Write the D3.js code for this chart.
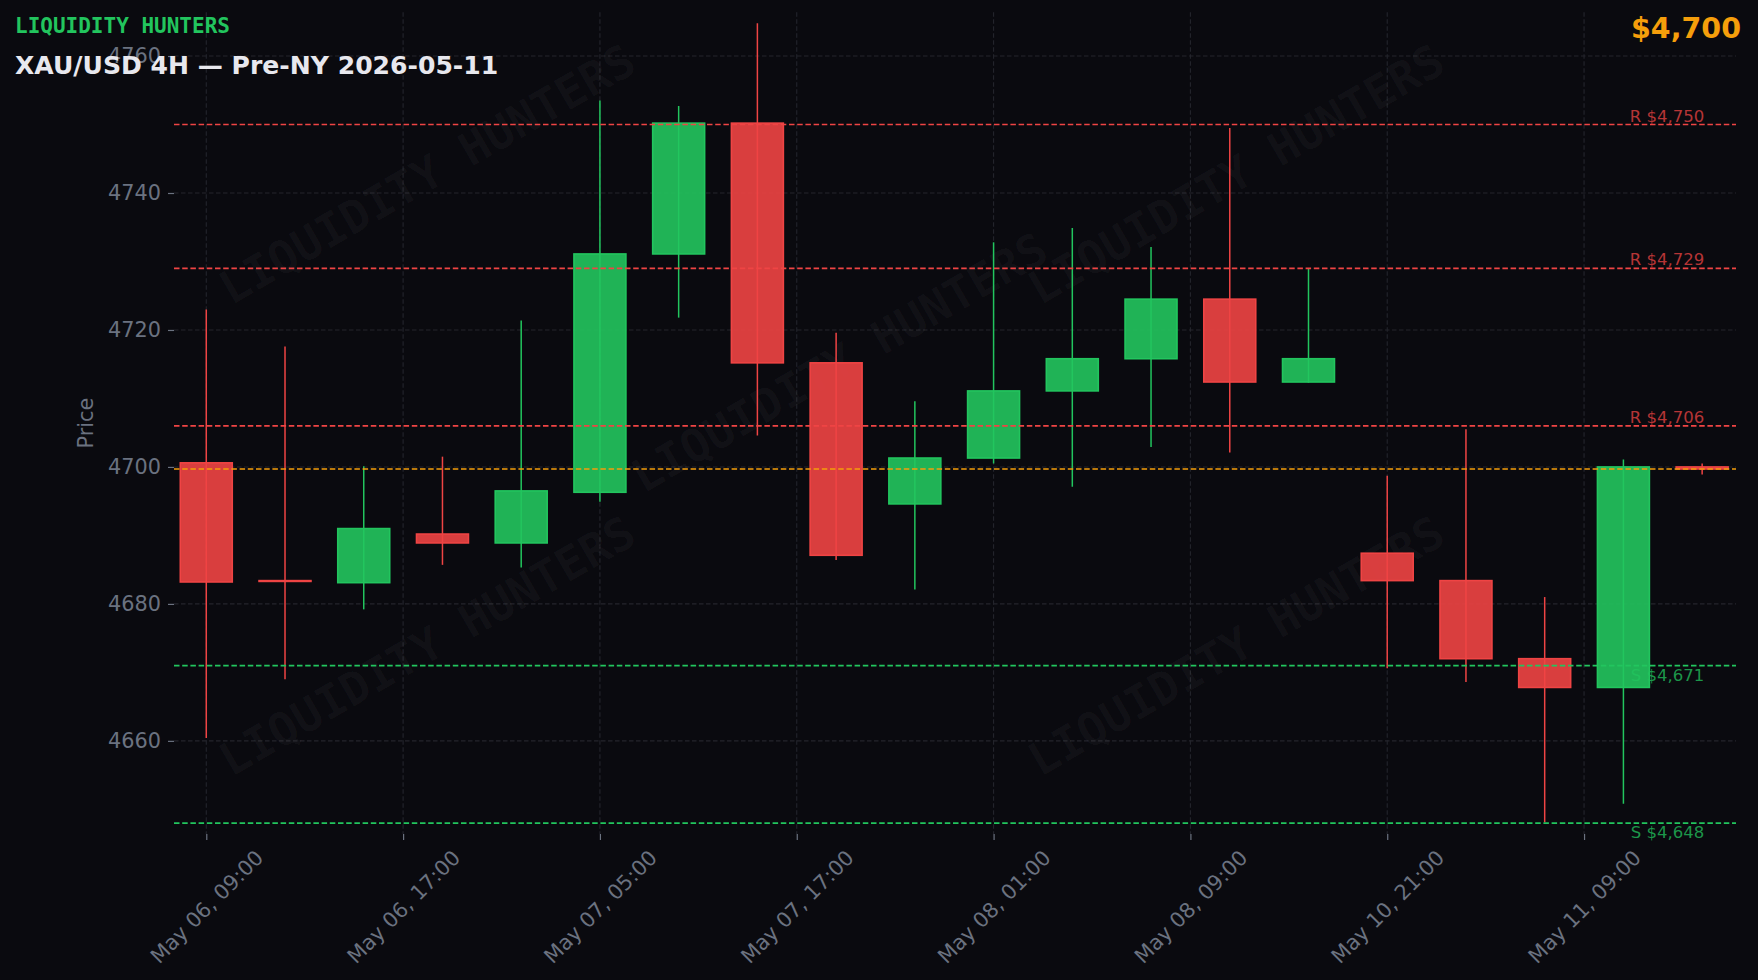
<!DOCTYPE html>
<html>
<head>
<meta charset="utf-8">
<script src="https://cdn.jsdelivr.net/npm/d3@7"></script>
<style>
  html, body { margin: 0; padding: 0; background: #0a0a0f; }
  svg { display: block; }
</style>
</head>
<body>
<div id="chart"></div>
<script>
// ---------------- DATA ----------------
const times = ["May 06, 09:00","May 06, 13:00","May 06, 17:00","May 06, 21:00","May 07, 01:00",
  "May 07, 05:00","May 07, 09:00","May 07, 13:00","May 07, 17:00","May 07, 21:00",
  "May 08, 01:00","May 08, 05:00","May 08, 09:00","May 08, 13:00","May 08, 17:00",
  "May 10, 21:00","May 11, 01:00","May 11, 05:00","May 11, 09:00","May 11, 13:00"];
const opens  = [4700.6,4683.4,4683.1,4690.2,4688.9,4696.3,4731.1,4750.2,4715.2,4694.6,
                4701.3,4711.1,4715.8,4724.5,4712.4,4687.4,4683.4,4672.0,4667.8,4700.0];
const highs  = [4723.0,4717.6,4700.1,4701.5,4721.4,4753.5,4752.7,4764.8,4719.6,4709.6,
                4732.8,4734.9,4732.1,4749.5,4728.9,4698.7,4705.5,4681.0,4701.1,4700.5];
const lows   = [4660.4,4669.0,4679.2,4685.7,4685.3,4694.9,4721.8,4704.6,4686.4,4682.1,
                4700.5,4697.1,4702.9,4702.1,4712.3,4670.6,4668.6,4648.1,4650.8,4698.9];
const closes = [4683.2,4683.3,4691.0,4688.9,4696.5,4731.1,4750.2,4715.2,4687.1,4701.3,
                4711.1,4715.8,4724.5,4712.4,4715.8,4683.4,4672.0,4667.8,4700.0,4699.7];
const resistance = [4750, 4729, 4706];
const support = [4671, 4648];
const currentPrice = 4699.7;
const xTickPositions = [0, 2.5, 5, 7.5, 10, 12.5, 15, 17.5];
const xTickLabels = ["May 06, 09:00","May 06, 17:00","May 07, 05:00","May 07, 17:00",
                     "May 08, 01:00","May 08, 09:00","May 10, 21:00","May 11, 09:00"];
const yTicks = [4660, 4680, 4700, 4720, 4740, 4760];
const brand = "LIQUIDITY HUNTERS";
const title = "XAU/USD 4H — Pre-NY 2026-05-11";
const yLabel = "Price";

// ---------------- LAYOUT ----------------
const W = 1758, H = 980;
const plot = { left: 174, right: 1736, top: 12.2, bottom: 834 };
const BG = "#0a0a0f";
const RED = "#ef4444", GREEN = "#22c55e", ORANGE = "#f59e0b";
const TICK = "#6b7280", GRID = "#24252d";
const FONT = "'DejaVu Sans', 'Liberation Sans', sans-serif";
const MONO = "'DejaVu Sans Mono', 'Liberation Mono', monospace";
const TFS = 20.8;

const candles = times.map((t, i) => ({ i, t, o: opens[i], h: highs[i], l: lows[i], c: closes[i] }));

const svg = d3.select("#chart").append("svg")
  .attr("width", W).attr("height", H)
  .style("background", BG);

svg.append("rect").attr("width", W).attr("height", H).attr("fill", BG);

const x = d3.scaleLinear().domain([-0.41, 19.43]).range([plot.left, plot.right]);
const y = d3.scaleLinear().domain([4646.4, 4766.4]).range([plot.bottom, plot.top]);

// ---------------- GRID ----------------
const grid = svg.append("g");
grid.selectAll("line.hg").data(yTicks).join("line")
  .attr("x1", plot.left).attr("x2", plot.right)
  .attr("y1", d => y(d)).attr("y2", d => y(d))
  .attr("stroke", GRID).attr("stroke-width", 1.1).attr("stroke-dasharray", "4.5,2.5");
grid.selectAll("line.vg").data(xTickPositions).join("line")
  .attr("x1", d => x(d)).attr("x2", d => x(d))
  .attr("y1", plot.top).attr("y2", plot.bottom)
  .attr("stroke", GRID).attr("stroke-width", 1.1).attr("stroke-dasharray", "4.5,2.5");

// ---------------- WATERMARK ----------------
const wmAnchors = [[0.162, 0.197], [0.680, 0.197], [0.426, 0.426], [0.162, 0.771], [0.680, 0.771]];
const pw = plot.right - plot.left, ph = plot.bottom - plot.top;
svg.append("g").selectAll("text").data(wmAnchors).join("text")
  .attr("transform", d => `translate(${plot.left + d[0] * pw},${plot.top + d[1] * ph}) rotate(-30)`)
  .attr("text-anchor", "middle").attr("dy", "0.35em")
  .attr("font-family", MONO).attr("font-weight", "bold").attr("font-size", 46)
  .attr("fill", "#ffffff").attr("fill-opacity", 0.035)
  .text(brand);

// ---------------- AXES ----------------
const yAxis = svg.append("g").attr("transform", `translate(${plot.left},0)`)
  .call(d3.axisLeft(y).tickValues(yTicks).tickSize(6).tickPadding(7).tickFormat(d3.format("d")));
yAxis.select(".domain").remove();
yAxis.selectAll(".tick line").attr("stroke", TICK).attr("stroke-width", 1.2);
yAxis.selectAll(".tick text").attr("fill", TICK).attr("font-family", FONT).attr("font-size", TFS);

const xAxis = svg.append("g").attr("transform", `translate(0,${plot.bottom})`)
  .call(d3.axisBottom(x).tickValues(xTickPositions).tickSize(6)
    .tickFormat((d, i) => xTickLabels[i]));
xAxis.select(".domain").remove();
xAxis.selectAll(".tick line").attr("stroke", TICK).attr("stroke-width", 1.2);
xAxis.selectAll(".tick text")
  .attr("fill", TICK).attr("font-family", FONT).attr("font-size", TFS)
  .attr("text-anchor", "middle").attr("x", 0).attr("y", 0).attr("dy", "0.35em")
  .each(function () {
    const w = this.getComputedTextLength();
    const hb = (w + 0.95 * TFS) / Math.SQRT2;
    d3.select(this).attr("transform", `translate(0,${13 + hb / 2}) rotate(-45)`);
  });

svg.append("text")
  .attr("transform", `translate(86,${(plot.top + plot.bottom) / 2}) rotate(-90)`)
  .attr("text-anchor", "middle").attr("dy", "0.35em")
  .attr("font-family", FONT).attr("font-size", TFS).attr("fill", TICK)
  .text(yLabel);

// ---------------- CANDLES ----------------
const bodyW = 0.66;
const cg = svg.append("g");
const colorOf = d => d.c >= d.o ? GREEN : RED;
cg.selectAll("line.wick").data(candles).join("line")
  .attr("x1", d => x(d.i)).attr("x2", d => x(d.i))
  .attr("y1", d => y(d.h)).attr("y2", d => y(d.l))
  .attr("stroke", colorOf).attr("stroke-width", 1.5);
cg.selectAll("rect.body").data(candles).join("rect")
  .attr("x", d => x(d.i - bodyW / 2))
  .attr("width", d => x(d.i + bodyW / 2) - x(d.i - bodyW / 2))
  .attr("y", d => y(Math.max(d.o, d.c)))
  .attr("height", d => Math.max(0.8, Math.abs(y(d.o) - y(d.c))))
  .attr("fill", colorOf).attr("fill-opacity", 0.9)
  .attr("stroke", colorOf).attr("stroke-width", 1.6);

// ---------------- LEVELS ----------------
const fmt = v => "$" + d3.format(",.0f")(v);
const lv = svg.append("g");
const levels = [
  ...resistance.map(v => ({ v, kind: "R", color: RED })),
  ...support.map(v => ({ v, kind: "S", color: GREEN }))
];
lv.selectAll("line.lvl").data(levels).join("line")
  .attr("x1", plot.left).attr("x2", plot.right)
  .attr("y1", d => y(d.v)).attr("y2", d => y(d.v))
  .attr("stroke", d => d.color).attr("stroke-width", 1.7).attr("stroke-dasharray", "5.5,2.7");
lv.append("line")
  .attr("x1", plot.left).attr("x2", plot.right)
  .attr("y1", y(currentPrice)).attr("y2", y(currentPrice))
  .attr("stroke", ORANGE).attr("stroke-width", 1.5).attr("stroke-dasharray", "5.5,2.7");
lv.selectAll("text.lvl").data(levels).join("text")
  .attr("x", x(candles.length - 1) + 2)
  .attr("y", d => d.kind === "R" ? y(d.v) - 3 : y(d.v) + 15)
  .attr("text-anchor", "end")
  .attr("font-family", FONT).attr("font-size", 16.5)
  .attr("fill", d => d.color).attr("fill-opacity", 0.75)
  .text(d => `${d.kind} ${fmt(d.v)}`);

// ---------------- HEADER ----------------
svg.append("text").attr("x", 15).attr("y", 33)
  .attr("font-family", MONO).attr("font-weight", "bold").attr("font-size", 21)
  .attr("fill", GREEN).text(brand);
svg.append("text").attr("x", 15).attr("y", 74)
  .attr("font-family", FONT).attr("font-weight", "bold").attr("font-size", 25.1)
  .attr("fill", "#e8e8ee").text(title);
svg.append("text").attr("x", 1741).attr("y", 38).attr("text-anchor", "end")
  .attr("font-family", FONT).attr("font-weight", "bold").attr("font-size", 28.5)
  .attr("fill", ORANGE).text(fmt(currentPrice));
</script>
</body>
</html>
